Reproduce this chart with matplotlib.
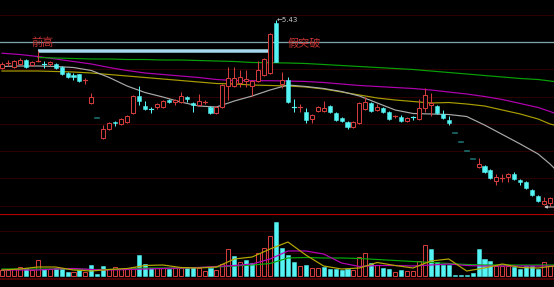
import numpy as np
import matplotlib
matplotlib.use("Agg")
import matplotlib.pyplot as plt
from matplotlib.patches import Rectangle

# ---------------- data ----------------
opens = [4.95, 4.995, 4.96, 4.99, 5.03, 4.98, 5.015, 4.995, 4.99, 4.99,
         4.96, 4.90, 4.88, 4.89, 4.825, 4.60, 4.45, 4.25, 4.34, 4.41,
         4.39, 4.41, 4.50, 4.67, 4.57, 4.545, 4.56, 4.56, 4.63, 4.61,
         4.61, 4.66, 4.60, 4.58, 4.605, 4.56, 4.50, 4.56, 4.77, 4.77,
         4.80, 4.82, 4.77, 4.82, 4.88, 4.90, 5.40, 4.79, 4.83, 4.565,
         4.555, 4.51, 4.44, 4.52, 4.52, 4.57, 4.50, 4.45, 4.41, 4.36,
         4.40, 4.54, 4.60, 4.53, 4.55, 4.51, 4.465, 4.46, 4.42, 4.465,
         4.44, 4.55, 4.58, 4.57, 4.49, 4.43, 4.30, 4.21, 4.12, 4.04,
         3.96, 3.97, 3.93, 3.82, 3.845, 3.86, 3.89, 3.83, 3.81, 3.73,
         3.67, 3.59, 3.60]
highs = [5.01, 5.03, 5.03, 5.05, 5.04, 5.02, 5.12, 5.02, 5.02, 5.00,
         4.97, 4.91, 4.90, 4.89, 4.85, 4.70, 4.45, 4.38, 4.41, 4.42,
         4.45, 4.48, 4.68, 4.77, 4.62, 4.56, 4.60, 4.63, 4.64, 4.64,
         4.71, 4.67, 4.61, 4.69, 4.63, 4.57, 4.57, 4.79, 4.96, 4.96,
         4.93, 4.93, 4.83, 5.02, 5.05, 5.30, 5.43, 4.91, 4.86, 4.64,
         4.59, 4.55, 4.49, 4.57, 4.62, 4.58, 4.51, 4.46, 4.42, 4.42,
         4.61, 4.66, 4.61, 4.59, 4.56, 4.52, 4.48, 4.48, 4.46, 4.47,
         4.64, 4.75, 4.70, 4.58, 4.53, 4.47, 4.30, 4.21, 4.12, 4.04,
         4.05, 3.98, 3.94, 3.89, 3.89, 3.90, 3.91, 3.84, 3.82, 3.74,
         3.68, 3.66, 3.66]
lows = [4.94, 4.97, 4.95, 4.98, 4.95, 4.97, 5.01, 4.95, 4.97, 4.94,
        4.88, 4.85, 4.83, 4.81, 4.79, 4.59, 4.45, 4.24, 4.33, 4.37,
        4.38, 4.40, 4.49, 4.58, 4.53, 4.50, 4.54, 4.55, 4.60, 4.58,
        4.60, 4.61, 4.51, 4.57, 4.59, 4.49, 4.49, 4.55, 4.63, 4.76,
        4.76, 4.76, 4.67, 4.81, 4.87, 4.89, 5.01, 4.75, 4.60, 4.51,
        4.51, 4.40, 4.40, 4.51, 4.51, 4.50, 4.42, 4.41, 4.34, 4.35,
        4.39, 4.53, 4.51, 4.52, 4.50, 4.43, 4.45, 4.41, 4.41, 4.43,
        4.43, 4.51, 4.47, 4.49, 4.44, 4.38, 4.30, 4.21, 4.12, 4.04,
        3.95, 3.90, 3.84, 3.78, 3.81, 3.81, 3.83, 3.78, 3.74, 3.67,
        3.61, 3.58, 3.57]
closes = [4.99, 5.00, 5.02, 5.03, 4.96, 5.01, 5.02, 4.99, 5.01, 4.95,
          4.89, 4.86, 4.86, 4.82, 4.83, 4.66, 4.45, 4.34, 4.40, 4.40,
          4.44, 4.47, 4.67, 4.62, 4.54, 4.54, 4.59, 4.62, 4.61, 4.63,
          4.67, 4.64, 4.58, 4.62, 4.61, 4.50, 4.56, 4.78, 4.85, 4.85,
          4.86, 4.84, 4.82, 4.93, 5.04, 5.29, 5.01, 4.83, 4.61, 4.56,
          4.56, 4.43, 4.48, 4.56, 4.55, 4.51, 4.43, 4.42, 4.36, 4.41,
          4.60, 4.61, 4.52, 4.56, 4.51, 4.44, 4.47, 4.42, 4.45, 4.46,
          4.55, 4.68, 4.60, 4.50, 4.45, 4.40, 4.30, 4.21, 4.12, 4.04,
          3.99, 3.91, 3.85, 3.86, 3.85, 3.89, 3.84, 3.81, 3.75, 3.68,
          3.62, 3.62, 3.65]

volumes = [6, 6, 7, 9, 8, 6, 16, 7, 7, 8,
           8, 4, 4, 6, 4, 11, 2, 10, 7, 9,
           7, 7, 9, 21, 12, 8, 8, 8, 7, 8,
           8, 8, 9, 8, 5, 8, 6, 12, 27, 20,
           14, 16, 13, 23, 28, 40, 54, 28, 21, 14,
           10, 11, 8, 8, 9, 7, 7, 6, 7, 6,
           19, 23, 13, 11, 8, 7, 4, 6, 5, 5,
           15, 31, 27, 14, 11, 11.5, 1, 1, 1, 3,
           27, 17, 15, 10, 10, 10, 9, 7, 10, 10,
           7, 14, 10]
vol_up = [1, 1, 1, 1, 0, 1, 1, 0, 1, 0,
          0, 0, 1, 0, 1, 0, 0, 0, 1, 1,
          1, 1, 1, 0, 0, 0, 1, 1, 0, 1,
          1, 0, 0, 1, 1, 0, 1, 1, 1, 0,
          1, 0, 0, 1, 1, 1, 0, 0, 0, 0,
          1, 0, 1, 1, 0, 0, 0, 0, 0, 1,
          1, 1, 0, 1, 0, 0, 1, 0, 1, 1,
          1, 1, 0, 0, 0, 0, 0, 0, 0, 0,
          0, 0, 0, 1, 1, 1, 0, 0, 0, 0,
          0, 1, 1]

# moving-average lines, sampled at these bar positions
ma_idx = [0, 3, 6, 9, 12, 15, 18, 21, 24, 27, 30, 33, 36, 39, 42, 45, 48, 51,
          54, 57, 60, 63, 66, 69, 72, 75, 78, 81, 84, 87, 90, 92, 92.67]
ma_grey = [4.965, 4.97, 4.97, 4.965, 4.955, 4.925, 4.855, 4.77, 4.705, 4.66,
           4.61, 4.57, 4.56, 4.62, 4.67, 4.73, 4.78, 4.765, 4.745, 4.715,
           4.67, 4.60, 4.53, 4.495, 4.49, 4.485, 4.465, 4.38, 4.285, 4.19,
           4.09, 3.99, 3.95]
ma_yellow = [4.92, 4.92, 4.92, 4.915, 4.91, 4.90, 4.885, 4.87, 4.855, 4.84,
             4.825, 4.81, 4.795, 4.79, 4.78, 4.775, 4.77, 4.76, 4.74, 4.71,
             4.68, 4.65, 4.63, 4.615, 4.60, 4.605, 4.59, 4.57, 4.53, 4.49,
             4.44, 4.39, 4.38]
ma_magenta = [5.098, 5.085, 5.065, 5.04, 5.015, 4.99, 4.955, 4.925, 4.90, 4.885,
              4.87, 4.855, 4.835, 4.825, 4.823, 4.823, 4.82, 4.815, 4.805, 4.79,
              4.775, 4.765, 4.755, 4.745, 4.73, 4.71, 4.69, 4.665, 4.635, 4.595,
              4.555, 4.515, 4.50]
ma_green_idx = ma_idx[2:]
ma_green = [5.055, 5.05, 5.045, 5.04, 5.04, 5.035, 5.035, 5.03, 5.03, 5.025,
            5.02, 5.015, 5.005, 5.003, 5.00, 4.995, 4.985, 4.975, 4.965, 4.955,
            4.945, 4.935, 4.92, 4.905, 4.89, 4.875, 4.86, 4.845, 4.835, 4.82, 4.815]

vol_ma5 = [6, 7, 9, 9, 6, 5, 6.5, 7.5, 10.5, 11, 8.5, 8, 9, 17, 19, 27, 34, 21,
           10, 7, 8, 13.5, 10.5, 8, 15, 17, 5, 8, 12, 8.5, 8, 9.5, 10]
vol_ma10 = [6, 6, 6, 7, 7.5, 6.5, 6, 6.5, 7, 7.5, 8, 8.5, 9.5, 10.5, 12, 17, 25, 25,
            22, 13, 9.5, 10.5, 10.5, 10, 11, 12, 10.5, 10, 10, 10, 10, 10, 10]
vol_ma20 = [7, 7, 7, 7, 7, 6.5, 6.5, 7, 8, 8, 8, 8.5, 9, 10, 11, 12.5, 18, 18.5,
            18, 18, 17.5, 16.5, 15.5, 14.5, 13.5, 12.5, 11.5, 11, 11, 11, 11, 11, 11]

prev_high_idx = 6          # 前高 bar
breakout_end_idx = 45      # 假突破 bar
resist_level = 5.21        # drawn horizontal line
peak_label = "5.43"
price_grid = [5.48, 5.21, 4.94, 4.66, 4.39, 4.12, 3.85, 3.57]
vol_grid = [45, 23]

# ---------------- styling ----------------
RED = "#d23c3c"
CYAN = "#54f4f4"
DIM = "#1e7272"
BG = "#000000"
GRID = "#2c0000"

n = len(closes)
W, H = 554, 287
fig = plt.figure(figsize=(W / 100, H / 100), dpi=100, facecolor=BG)
ax = fig.add_axes([0, 73 / H, 1, 214 / H], facecolor=BG)
axv = fig.add_axes([0, 7 / H, 1, 66 / H], facecolor=BG)

step = 5.957
xlim = (-2 / step, (W - 2) / step)
for a in (ax, axv):
    a.set_xlim(*xlim)
    a.set_xticks([])
    a.set_yticks([])
    for s in a.spines.values():
        s.set_visible(False)
ax.set_ylim(3.49, 5.63)
axv.set_ylim(-4, 62)

px = 0.72  # one pixel in points
for g in price_grid:
    ax.axhline(g, color=GRID, lw=px, zorder=0)
for g in vol_grid:
    axv.axhline(g, color=GRID, lw=px, zorder=0)
axv.axhline(61.6, color="#b00000", lw=px * 1.2, zorder=5)
axv.axhline(-3.4, color="#4a0000", lw=px * 2, zorder=5)

# moving averages (main)
ax.plot(ma_idx, ma_magenta, color="#b000b0", lw=px * 1.2, zorder=2)
ax.plot(ma_green_idx, ma_green, color="#08a008", lw=px * 1.2, zorder=2)
ax.plot(ma_idx, ma_yellow, color="#a89c00", lw=px * 1.2, zorder=2)
ax.plot(ma_idx, ma_grey, color="#a8a8a8", lw=px * 1.2, zorder=2)

# annotation lines
ax.axhline(resist_level, color="#7fa2aa", lw=px * 1.3, zorder=1)
ax.plot([prev_high_idx, breakout_end_idx - 0.3],
        [highs[prev_high_idx], highs[prev_high_idx]],
        color="#a6d8ee", lw=px * 3.5, solid_capstyle="butt", zorder=3)

# candles
bw = 0.68
for i in range(n):
    o, h, l, c = opens[i], highs[i], lows[i], closes[i]
    if h - l < 1e-9:
        ax.plot([i - 0.35, i + 0.35], [c, c], color=DIM, lw=px * 1.6, zorder=4)
        continue
    top, bot = max(o, c), min(o, c)
    up = c >= o
    col = RED if up else CYAN
    if up:
        ax.vlines(i, top, h, color=col, lw=px, zorder=4)
        ax.vlines(i, l, bot, color=col, lw=px, zorder=4)
    else:
        ax.vlines(i, l, h, color=col, lw=px, zorder=4)
    if top - bot < 0.008:
        ax.plot([i - bw / 2, i + bw / 2], [c, c], color=col, lw=px * 1.2, zorder=4)
    elif up:
        ax.add_patch(Rectangle((i - bw / 2, bot), bw, top - bot, facecolor=BG,
                               edgecolor=col, lw=px, zorder=4))
    else:
        ax.add_patch(Rectangle((i - bw / 2, bot), bw, top - bot, facecolor=col,
                               edgecolor=col, lw=px * 0.5, zorder=4))

# texts
cjk = ["Noto Sans CJK SC", "DejaVu Sans"]
ax.text(prev_high_idx + 0.8, 5.20, "前高", color="#c83434", fontsize=8,
        family=cjk, ha="center", va="center", zorder=6)
ax.text(50.7, 5.195, "假突破", color="#c83434", fontsize=8,
        family=cjk, ha="center", va="center", zorder=6)
ax.text(46.1, highs[46] - 0.005, "\u2190" + peak_label, color="#c8c8c8", fontsize=5,
        family="DejaVu Sans", ha="left", va="center", zorder=6)

# low marker (arrow pointing at the lowest bar, label runs off the edge)
low_i = int(np.argmin(lows))
ax.annotate("", xy=(low_i - 1.0, lows[low_i] - 0.01),
            xytext=(xlim[1] + 0.2, lows[low_i] - 0.01),
            arrowprops=dict(arrowstyle="-|>", color="#c8c8c8", lw=px,
                            mutation_scale=4, shrinkA=0, shrinkB=0),
            zorder=6)

# volume
for i in range(n):
    v = volumes[i]
    if vol_up[i]:
        axv.add_patch(Rectangle((i - bw / 2, 0), bw, v, facecolor=BG,
                                edgecolor=RED, lw=px, zorder=3))
    else:
        axv.add_patch(Rectangle((i - bw / 2, 0), bw, v, facecolor=CYAN,
                                edgecolor=CYAN, lw=px * 0.5, zorder=3))
axv.plot(ma_idx, vol_ma20, color="#08a808", lw=px * 1.2, zorder=4)
axv.plot(ma_idx, vol_ma10, color="#b800b8", lw=px * 1.2, zorder=4)
axv.plot(ma_idx, vol_ma5, color="#b4a800", lw=px * 1.2, zorder=4)

fig.savefig("out.png", dpi=100, facecolor=BG)
